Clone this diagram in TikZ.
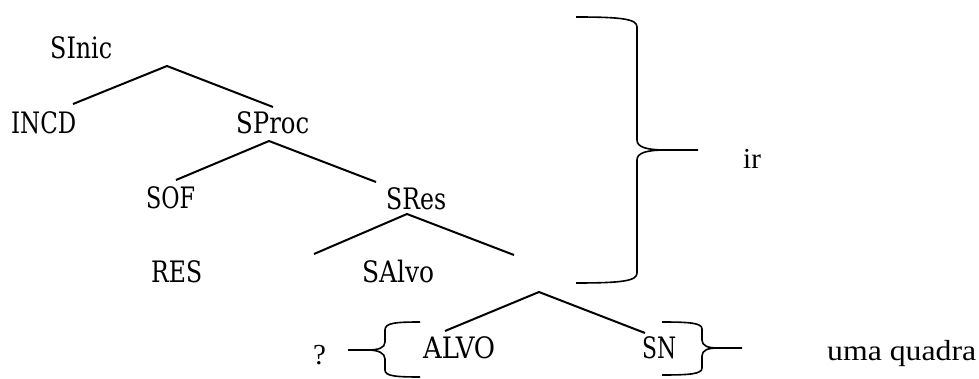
\documentclass[tikz,border=0pt]{standalone}
\usepackage{fontspec}
\usepackage{graphicx}
\setmainfont{Liberation Serif}
\newfontfamily\catfont{DejaVu Serif Condensed}
% set a label to a given width, keeping its height
\newcommand\fitw[2]{\resizebox{#1pt}{\height}{#2}}
\begin{document}
\begin{tikzpicture}[x=1pt,y=-1pt,
  lbl/.style={anchor=base west, inner sep=0pt, font=\catfont\fontsize{29.5}{34}\selectfont},
  gloss/.style={anchor=base west, inner sep=0pt, font=\fontsize{29}{33}\selectfont},
  branch/.style={line width=2pt, line cap=butt},
  brace/.style={line width=1.6pt, line join=round}]
\useasboundingbox (0,0) rectangle (979,379);

% category labels
\node[lbl] (sinic) at (50,59)  {\fitw{62}{SInic}};
\node[lbl] (incd)  at (11,134) {\fitw{65}{INCD}};
\node[lbl] (sproc) at (236,134){\fitw{73}{SProc}};
\node[lbl] (sof)   at (146,209){\fitw{49}{SOF}};
\node[lbl] (sres)  at (386,210){\fitw{60}{SRes}};
\node[lbl] (res)   at (151,283){\fitw{51}{RES}};
\node[lbl] (salvo) at (362,283){\fitw{72}{SAlvo}};
\node[lbl] (alvo)  at (423,358){\fitw{72}{ALVO}};
\node[lbl] (sn)    at (642,358){\fitw{34}{SN}};

% glosses
\node[gloss] (q)    at (313,364){?};
\node[gloss] (ir)   at (743,169){ir};
\node[gloss] (quad) at (827,360){\fitw{149}{uma quadra}};

% branch points
\coordinate (a1) at (167,66);  \coordinate (l1) at (73,104);  \coordinate (r1) at (273,107);
\coordinate (a2) at (269,141); \coordinate (l2) at (176,180); \coordinate (r2) at (376,182);
\coordinate (a3) at (407,214); \coordinate (l3) at (314,254); \coordinate (r3) at (514,255);
\coordinate (a4) at (539,292); \coordinate (l4) at (445,331); \coordinate (r4) at (645,333);

\draw[branch] (l1) -- (a1) -- (r1);
\draw[branch] (l2) -- (a2) -- (r2);
\draw[branch] (l3) -- (a3) -- (r3);
\draw[branch] (l4) -- (a4) -- (r4);

% large brace grouping the upper tree
\draw[brace] (576,17) .. controls (622,17) and (637,19) .. (637,27)
  -- (637,140) .. controls (637,147) and (646,150) .. (666,150) -- (698,150);
\draw[brace] (666,150) .. controls (646,150) and (637,153) .. (637,160)
  -- (637,273) .. controls (637,281) and (622,283) .. (576,283);

% small brace before ALVO
\draw[brace] (420,322) .. controls (395,322) and (385,323) .. (385,330)
  -- (385,342) .. controls (385,348) and (378,350) .. (368,350) -- (348,350);
\draw[brace] (368,350) .. controls (378,350) and (385,353) .. (385,359)
  -- (385,370) .. controls (385,376) and (395,377) .. (420,377);

% small brace after SN
\draw[brace] (662,322) .. controls (690,322) and (702,323) .. (702,329)
  -- (702,340) .. controls (702,346) and (708,348) .. (718,348) -- (742,348);
\draw[brace] (718,348) .. controls (708,348) and (702,350) .. (702,356)
  -- (702,368) .. controls (702,374) and (690,375) .. (662,375);
\end{tikzpicture}
\end{document}
